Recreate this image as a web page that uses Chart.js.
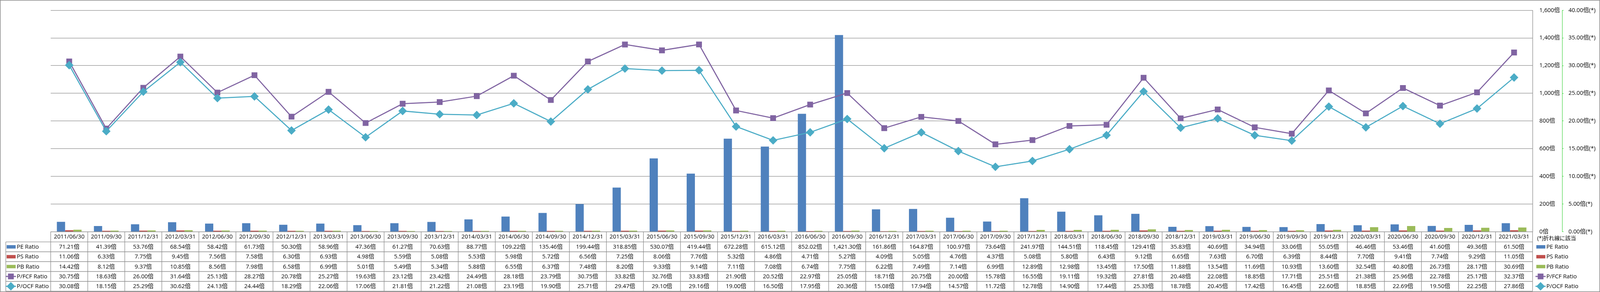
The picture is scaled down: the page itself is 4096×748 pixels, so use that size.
<!DOCTYPE html>
<html lang="ja">
<head>
<meta charset="utf-8">
<title>PE / PS / PB / P/FCF / P/OCF Ratio</title>
<script src="https://cdn.jsdelivr.net/npm/chart.js@4.4.1/dist/chart.umd.min.js"></script>
<style>
  html, body { margin: 0; padding: 0; background: #fff; overflow: hidden; }
  #wrap { width: 4096px; height: 748px; }
</style>
</head>
<body>
<div id="wrap"><canvas id="ratioChart" width="4096" height="748"></canvas></div>
<script>
/* ---- Daten ---- */
const CATEGORIES = [
  '2011/06/30','2011/09/30','2011/12/31','2012/03/31','2012/06/30','2012/09/30','2012/12/31','2013/03/31',
  '2013/06/30','2013/09/30','2013/12/31','2014/03/31','2014/06/30','2014/09/30','2014/12/31','2015/03/31',
  '2015/06/30','2015/09/30','2015/12/31','2016/03/31','2016/06/30','2016/09/30','2016/12/31','2017/03/31',
  '2017/06/30','2017/09/30','2017/12/31','2018/03/31','2018/06/30','2018/09/30','2018/12/31','2019/03/31',
  '2019/06/30','2019/09/30','2019/12/31','2020/03/31','2020/06/30','2020/09/30','2020/12/31','2021/03/31'
];
const PE_RATIO = [71.21, 41.39, 53.76, 68.54, 58.42, 61.73, 50.30, 58.96, 47.36, 61.27, 70.63, 88.77, 109.22, 135.46,
  199.44, 318.85, 530.07, 419.44, 672.28, 615.12, 852.02, 1421.30, 161.86, 164.87, 100.97, 73.64, 241.97, 144.51,
  118.45, 129.41, 35.83, 40.69, 34.94, 33.06, 55.05, 46.46, 53.46, 41.60, 49.36, 61.50];
const PS_RATIO = [11.06, 6.33, 7.75, 9.45, 7.56, 7.58, 6.30, 6.93, 4.98, 5.59, 5.08, 5.53, 5.98, 5.72, 6.56, 7.25,
  8.06, 7.76, 5.32, 4.86, 4.71, 5.27, 4.09, 5.05, 4.76, 4.37, 5.08, 5.80, 6.43, 9.12, 6.65, 7.63, 6.70, 6.39, 8.44,
  7.70, 9.41, 7.74, 9.29, 11.05];
const PB_RATIO = [14.42, 8.12, 9.37, 10.85, 8.56, 7.98, 6.58, 6.99, 5.01, 5.49, 5.34, 5.88, 6.55, 6.37, 7.48, 8.20,
  9.33, 9.14, 7.11, 7.08, 6.74, 7.75, 6.22, 7.49, 7.14, 6.99, 12.89, 12.98, 13.45, 17.50, 11.88, 13.54, 11.69, 10.93,
  13.60, 32.54, 40.80, 26.73, 28.17, 30.69];
const PFCF_RATIO = [30.75, 18.63, 26.00, 31.64, 25.13, 28.27, 20.78, 25.27, 19.63, 23.12, 23.42, 24.49, 28.18, 23.79,
  30.75, 33.82, 32.76, 33.83, 21.90, 20.52, 22.97, 25.05, 18.71, 20.75, 20.00, 15.78, 16.55, 19.11, 19.32, 27.81,
  20.48, 22.08, 18.85, 17.71, 25.51, 21.38, 25.96, 22.78, 25.17, 32.37];
const POCF_RATIO = [30.08, 18.15, 25.29, 30.62, 24.13, 24.44, 18.29, 22.06, 17.06, 21.81, 21.22, 21.08, 23.19, 19.90,
  25.71, 29.47, 29.10, 29.16, 19.00, 16.50, 17.95, 20.36, 15.08, 17.94, 14.57, 11.72, 12.78, 14.90, 17.44, 25.33,
  18.78, 20.45, 17.42, 16.45, 22.60, 18.85, 22.69, 19.50, 22.25, 27.86];
const Y_TICKS = [0, 200, 400, 600, 800, 1000, 1200, 1400, 1600];
const Y2_TICKS = [0, 5, 10, 15, 20, 25, 30, 35, 40];

/* ---- Maße (Referenz-Pixel * S) ---- */
const S = 0.871;
const W = 4096, H = 748;
const FONT = "'Open Sans', 'Noto Sans CJK JP', sans-serif";
const FS = 17 * S;
const GRID = '#8c8c8c';
const GREEN_AXIS = '#22cc22';
const LINE_BW = 3.2 * S;

const PLOT_LEFT = 149, PLOT_TOP = 14, PLOT_RIGHT = 4504.5, PLOT_BOTTOM = 681.5;
const HEAD_BOTTOM = 711.5, ROW_H = 29, KEY_LEFT = 17;

const SERIES = [
  { label: 'PE Ratio',    data: PE_RATIO,   type: 'bar',  color: '#4F81BD' },
  { label: 'PS Ratio',    data: PS_RATIO,   type: 'bar',  color: '#C0504D' },
  { label: 'PB Ratio',    data: PB_RATIO,   type: 'bar',  color: '#9BBB59' },
  { label: 'P/FCF Ratio', data: PFCF_RATIO, type: 'line', color: '#8064A2', pointStyle: 'rect',    radius: 11 * S },
  { label: 'P/OCF Ratio', data: POCF_RATIO, type: 'line', color: '#4BACC6', pointStyle: 'rectRot', radius: 11.5 * S }
];

const fmtVal = v => v.toLocaleString('en-US', { minimumFractionDigits: 2, maximumFractionDigits: 2 }) + '倍';

function drawKey(ctx, s, x0, cy) {
  ctx.save();
  if (s.type === 'bar') {
    ctx.fillStyle = s.color;
    ctx.fillRect(x0 + 2.5 * S, cy - 5 * S, 26.5 * S, 10 * S);
  } else {
    ctx.strokeStyle = s.color;
    ctx.lineWidth = LINE_BW;
    ctx.beginPath();
    ctx.moveTo(x0, cy);
    ctx.lineTo(x0 + 30 * S, cy);
    ctx.stroke();
    ctx.fillStyle = s.color;
    ctx.lineWidth = 1.5 * S;
    Chart.helpers.drawPoint(ctx, { pointStyle: s.pointStyle, radius: s.radius, rotation: 0, borderWidth: 1.5 * S },
      x0 + 15 * S, cy);
  }
  ctx.restore();
}

/* ---- Datentabelle unter dem Diagramm ---- */
const tablePlugin = {
  id: 'dataTable',
  afterDraw(chart) {
    const ctx = chart.ctx;
    const xs = chart.scales.x;
    const n = CATEGORIES.length;
    const step = xs.getPixelForValue(1) - xs.getPixelForValue(0);
    const left = xs.getPixelForValue(0) - step / 2;
    const right = xs.getPixelForValue(n - 1) + step / 2;
    const top = chart.chartArea.bottom;
    const headBot = HEAD_BOTTOM * S;
    const rowTop = k => headBot + k * ROW_H * S;
    const bottom = rowTop(SERIES.length);
    const keyLeft = KEY_LEFT * S;

    ctx.save();
    ctx.strokeStyle = GRID;
    ctx.lineWidth = 1.5 * S;
    ctx.beginPath();
    ctx.moveTo(left, top); ctx.lineTo(right, top);
    for (let k = 0; k <= SERIES.length; k++) {
      ctx.moveTo(keyLeft, rowTop(k)); ctx.lineTo(right, rowTop(k));
    }
    for (let i = 0; i <= n; i++) {
      const x = left + i * step;
      ctx.moveTo(x, top); ctx.lineTo(x, bottom);
    }
    ctx.moveTo(keyLeft, headBot); ctx.lineTo(keyLeft, bottom);
    ctx.stroke();

    ctx.fillStyle = '#000';
    ctx.font = `${FS}px ${FONT}`;
    ctx.textAlign = 'center';
    ctx.textBaseline = 'middle';
    CATEGORIES.forEach((c, i) => {
      const cx = xs.getPixelForValue(i);
      ctx.fillText(c, cx, (top + headBot) / 2 + 0.5);
      SERIES.forEach((s, k) => ctx.fillText(fmtVal(s.data[i]), cx, rowTop(k) + ROW_H * S / 2 + 0.5));
    });

    // Legendenspalte der Tabelle
    SERIES.forEach((s, k) => {
      const cy = rowTop(k) + ROW_H * S / 2;
      drawKey(ctx, s, keyLeft, cy);
      ctx.fillStyle = '#000';
      ctx.textAlign = 'left';
      ctx.fillText(s.label, 49.5 * S, cy + 0.5);
    });

    // Legende rechts
    ctx.font = `${16 * S}px ${FONT}`;
    ctx.fillText('(*)折れ線に該当', 4518 * S, 702 * S);
    ctx.font = `${FS}px ${FONT}`;
    SERIES.forEach((s, k) => {
      const cy = rowTop(k) + ROW_H * S / 2;
      drawKey(ctx, s, 4513 * S, cy);
      ctx.fillStyle = '#000';
      ctx.textAlign = 'left';
      ctx.fillText(s.label, 4545 * S, cy + 0.5);
    });

    // Rahmen
    ctx.strokeStyle = GRID;
    ctx.lineWidth = 1.5;
    ctx.strokeRect(0.75, 0.75, W - 1.5, H - 1.5);
    ctx.restore();
  }
};

const datasets = SERIES.map((s, idx) => {
  if (s.type === 'bar') {
    return {
      type: 'bar', label: s.label, data: s.data, yAxisID: 'y', order: 2,
      backgroundColor: s.color, borderWidth: 0,
      categoryPercentage: 0.667, barPercentage: 1.0
    };
  }
  return {
    type: 'line', label: s.label, data: s.data, yAxisID: 'y2', order: idx === 4 ? 0 : 1,
    borderColor: s.color, backgroundColor: s.color, borderWidth: LINE_BW, tension: 0, fill: false,
    pointStyle: s.pointStyle, pointRadius: s.radius, pointBorderWidth: 1.5 * S,
    pointBackgroundColor: s.color, pointBorderColor: s.color
  };
});

new Chart(document.getElementById('ratioChart'), {
  type: 'bar',
  data: { labels: CATEGORIES, datasets },
  options: {
    responsive: false,
    animation: false,
    devicePixelRatio: 1,
    events: [],
    layout: { padding: { left: PLOT_LEFT * S, top: PLOT_TOP * S, right: 0, bottom: H - PLOT_BOTTOM * S } },
    plugins: { legend: { display: false }, tooltip: { enabled: false } },
    scales: {
      x: { display: false, offset: true },
      y: {
        position: 'right',
        min: 0, max: 1600,
        afterBuildTicks: sc => { sc.ticks = Y_TICKS.map(v => ({ value: v })); },
        afterFit: sc => { sc.width = (4591.5 - PLOT_RIGHT) * S; },
        grid: { color: GRID, lineWidth: 1.5 * S, drawTicks: false },
        border: { display: true, color: GRID, width: 1.5 * S },
        ticks: {
          autoSkip: false, padding: 20 * S, color: '#000',
          font: { family: FONT, size: FS },
          callback: v => v.toLocaleString('en-US') + '倍'
        }
      },
      y2: {
        position: 'right',
        min: 0, max: 40,
        afterBuildTicks: sc => { sc.ticks = Y2_TICKS.map(v => ({ value: v })); },
        afterFit: sc => { sc.width = W - 4591.5 * S; },
        grid: { drawOnChartArea: false, drawTicks: true, tickLength: 4 * S, color: GREEN_AXIS, lineWidth: 1 },
        border: { display: true, color: GREEN_AXIS, width: 1, dash: [3 * S, 3 * S] },
        ticks: {
          autoSkip: false, padding: 14.5 * S, color: '#000',
          font: { family: FONT, size: FS },
          callback: v => v.toFixed(2) + '倍(*)'
        }
      }
    }
  },
  plugins: [tablePlugin]
});
</script>
</body>
</html>
